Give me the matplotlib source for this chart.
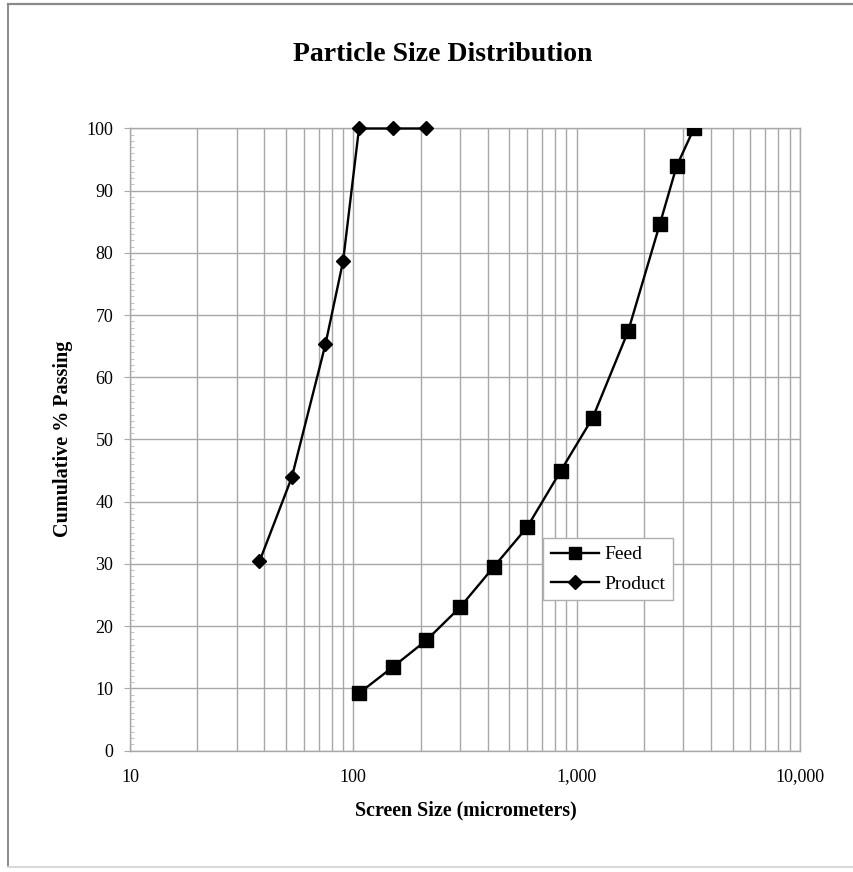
import matplotlib
matplotlib.use("Agg")
import matplotlib.pyplot as plt
from matplotlib.ticker import LogLocator, FuncFormatter, MultipleLocator, NullFormatter
from matplotlib.lines import Line2D

plt.rcParams['font.family'] = ['Liberation Serif', 'DejaVu Serif']

# Sieve sizes (micrometers) and cumulative % passing
feed_size = [106, 150, 212, 300, 425, 600, 850, 1180, 1700, 2360, 2800, 3350]
feed_pass = [9.2, 13.4, 17.7, 23.0, 29.5, 35.9, 45.0, 53.5, 67.4, 84.7, 93.9, 100.0]

product_size = [38, 53, 75, 90, 106, 150, 212]
product_pass = [30.4, 43.9, 65.3, 78.7, 100.0, 100.0, 100.0]

W, H = 854, 872
fig = plt.figure(figsize=(W / 100, H / 100), dpi=100)

# outer chart frame
frame_col = '#8a8a8a'
fig.add_artist(Line2D([8 / W, 1.0], [1 - 4 / H, 1 - 4 / H], color=frame_col, lw=1.6))
fig.add_artist(Line2D([8 / W, 8 / W], [1 - 4 / H, 1 - 867 / H], color=frame_col, lw=1.4))
fig.add_artist(Line2D([8 / W, 1.0], [1 - 867 / H, 1 - 867 / H], color='#d8d8d8', lw=1.4))

left, right, top, bottom = 130, 800, 128.5, 750.5
ax = fig.add_axes([left / W, 1 - bottom / H, (right - left) / W, (bottom - top) / H])

ax.set_xscale('log')
ax.set_xlim(10, 10000)
ax.set_ylim(0, 100)

grid_col = '#a8a8a8'
ax.xaxis.set_major_locator(LogLocator(base=10, numticks=10))
ax.xaxis.set_minor_locator(LogLocator(base=10, subs=range(2, 10), numticks=20))
ax.xaxis.set_major_formatter(FuncFormatter(lambda v, p: f"{int(round(v)):,}"))
ax.xaxis.set_minor_formatter(NullFormatter())
ax.yaxis.set_major_locator(MultipleLocator(10))
ax.yaxis.set_minor_locator(MultipleLocator(1))

ax.grid(True, which='major', axis='both', color=grid_col, lw=1.0)
ax.grid(True, which='minor', axis='x', color=grid_col, lw=1.0)
ax.set_axisbelow(True)

for s in ax.spines.values():
    s.set_color(grid_col)
    s.set_linewidth(1.0)

ax.tick_params(axis='x', which='major', direction='in', length=5, color=grid_col,
               labelsize=13, pad=13)
ax.tick_params(axis='x', which='minor', direction='in', length=4, color=grid_col)
ax.tick_params(axis='y', which='major', direction='out', length=4, color=grid_col,
               labelsize=13, pad=8)
ax.tick_params(axis='y', which='minor', direction='in', length=3, color='#b8b8b8')

ax.plot(feed_size, feed_pass, color='black', lw=1.7, marker='s', ms=9.5,
        mfc='black', mec='black', label='Feed', zorder=3)
ax.plot(product_size, product_pass, color='black', lw=1.7, marker='D', ms=7.5,
        mfc='black', mec='black', label='Product', zorder=3, clip_on=False)

leg = ax.legend(loc='upper left', bbox_to_anchor=((543 - left) / (right - left),
                                                   (bottom - 538) / (bottom - top)),
                fontsize=14, frameon=True, fancybox=False, framealpha=1,
                edgecolor='#b0b0b0', handlelength=2.5, handletextpad=0.25,
                borderpad=0.4, labelspacing=0.6, markerscale=0.95,
                borderaxespad=0)
leg.get_frame().set_linewidth(1.0)

fig.text(443 / W, 1 - 61 / H, 'Particle Size Distribution', ha='center', va='baseline',
         fontsize=20, fontweight='bold')
fig.text(466 / W, 1 - 815 / H, 'Screen Size (micrometers)', ha='center', va='baseline',
         fontsize=14.4, fontweight='bold')
fig.text(63 / W, 1 - 439 / H, 'Cumulative % Passing', ha='center', va='center',
         rotation=90, fontsize=14.5, fontweight='bold')

fig.savefig('out.png', dpi=100)
